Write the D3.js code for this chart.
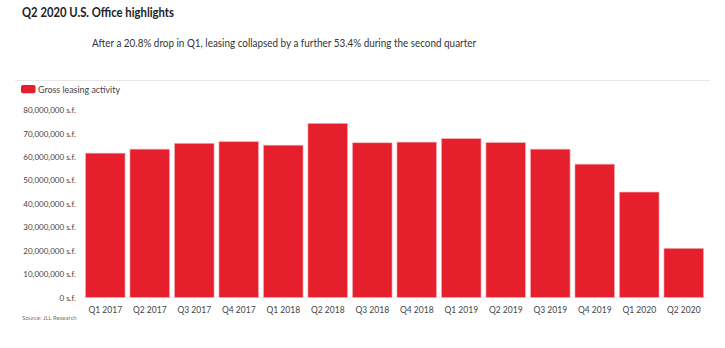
<!DOCTYPE html>
<html><head><meta charset="utf-8">
<script src="https://cdn.jsdelivr.net/npm/d3@7"></script>
<style>body{margin:0;background:#fff}svg{display:block}text{font-family:"Source Sans Pro",Lato,"Open Sans",sans-serif}</style>
</head><body>
<svg id="c" width="725" height="348"></svg>
<script>
const categories = ["Q1 2017","Q2 2017","Q3 2017","Q4 2017","Q1 2018","Q2 2018","Q3 2018","Q4 2018","Q1 2019","Q2 2019","Q3 2019","Q4 2019","Q1 2020","Q2 2020"];
const grossLeasing = [61.6e6,63.3e6,65.8e6,66.5e6,65.0e6,74.3e6,66.0e6,66.3e6,67.8e6,66.1e6,63.3e6,56.9e6,45.0e6,21.0e6];
const yTicks = [0,10e6,20e6,30e6,40e6,50e6,60e6,70e6,80e6];
const title = "Q2 2020 U.S. Office highlights";
const subtitle = "After a 20.8% drop in Q1, leasing collapsed by a further 53.4% during the second quarter";
const seriesName = "Gross leasing activity";
const source = "Source: JLL Research";

const svg = d3.select("#c");
const x = d3.scaleBand().domain(categories).range([83,706]).paddingInner(0.11).paddingOuter(0.055);
const y = d3.scaleLinear().domain([0,80e6]).range([297.5,110]);
const red = "#e61f2d";

svg.append("text").attr("x",22).attr("y",16.5).attr("font-size",12.5).attr("font-weight",700).attr("fill","#222")
  .attr("textLength",152).attr("lengthAdjust","spacingAndGlyphs").text(title);
svg.append("text").attr("x",92).attr("y",47).attr("font-size",11).attr("fill","#333")
  .attr("textLength",384).attr("lengthAdjust","spacingAndGlyphs").text(subtitle);
svg.append("line").attr("x1",15).attr("x2",710).attr("y1",80.5).attr("y2",80.5).attr("stroke","#e8e8e8");

svg.append("rect").attr("x",21).attr("y",85).attr("width",14.5).attr("height",8.3).attr("rx",2).attr("fill",red);
svg.append("text").attr("x",38).attr("y",92.5).attr("font-size",9.5).attr("fill","#444")
  .attr("textLength",82).attr("lengthAdjust","spacingAndGlyphs").text(seriesName);

// y axis
const yAxis = svg.append("g").attr("transform","translate(76,0)")
  .call(d3.axisLeft(y).tickValues(yTicks).tickSize(0).tickPadding(0).tickFormat(d=>d3.format(",")(d)+" s.f."));
yAxis.select(".domain").remove();
yAxis.selectAll("text").attr("font-size",8).attr("fill","#444").attr("font-family",null);

// baseline
svg.append("line").attr("x1",83).attr("x2",708).attr("y1",297.5).attr("y2",297.5).attr("stroke","#eee");

// bars
svg.append("g").selectAll("rect").data(grossLeasing).join("rect")
  .attr("x",(d,i)=>x(categories[i])).attr("width",x.bandwidth())
  .attr("y",d=>y(d)).attr("height",d=>y(0)-y(d))
  .attr("fill",red).attr("stroke","#f5b5b9").attr("stroke-width",0.6);

// x axis
const xAxis = svg.append("g").attr("transform","translate(0,298)")
  .call(d3.axisBottom(x).tickSize(3).tickPadding(6));
xAxis.select(".domain").remove();
xAxis.selectAll("line").attr("stroke","#eee");
xAxis.selectAll("text").attr("font-size",8.5).attr("fill","#444").attr("font-family",null);

svg.append("text").attr("x",22).attr("y",320).attr("font-size",6).attr("fill","#777").text(source);
</script>
</body></html>
